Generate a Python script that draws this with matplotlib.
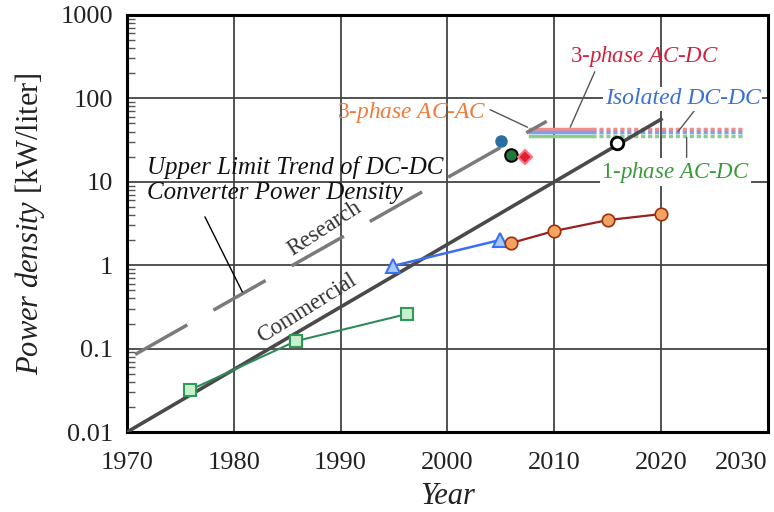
import numpy as np
import matplotlib
matplotlib.use('Agg')
import matplotlib.pyplot as plt
from matplotlib.ticker import LogLocator, NullFormatter

plt.rcParams['font.family'] = 'Liberation Serif'
plt.rcParams['mathtext.fontset'] = 'custom'
plt.rcParams['mathtext.rm'] = 'Liberation Serif'
plt.rcParams['mathtext.it'] = 'Liberation Serif:italic'

# trend lines (upper limit of DC-DC converter power density)
commercial_years = [1970, 2020]
commercial_vals = [0.01, 56]
research_years = [1970, 2009.3]
research_vals = [0.075, 53]

# commercial products
sq_years = [1975.9, 1985.8, 1996.2]
sq_vals = [0.032, 0.123, 0.26]
tri_years = [1994.9, 2004.9]
tri_vals = [0.98, 2.0]
circ_years = [2006.0, 2010.0, 2015.0, 2020.0]
circ_vals = [1.85, 2.57, 3.47, 4.1]

# research prototypes
blue_dot = (2005.0, 31)
green_dot = (2006.0, 21)
red_diamond = (2007.3, 20)
black_ring = (2015.9, 29)

# research targets: solid then dashed
band_years = [2007.7, 2013.5, 2027.6]
ac_dc3_val = 43
iso_dcdc_val = 39
ac_dc1_val = 35

xticks = [1970, 1980, 1990, 2000, 2010, 2020, 2030]
yticks = [0.01, 0.1, 1, 10, 100, 1000]
ylabels = ['0.01', '0.1', '1', '10', '100', '1000']

fig = plt.figure(figsize=(7.74, 5.12), dpi=100)
ax = fig.add_axes([0.164, 0.156, 0.828, 0.815])
ax.set_yscale('log')
ax.set_xlim(1970, 2030)
ax.set_ylim(0.01, 1000)

for x in xticks[1:-1]:
    ax.axvline(x, color='#444444', lw=1.3, zorder=1)
for y in yticks[1:-1]:
    ax.axhline(y, color='#444444', lw=1.3, zorder=1)

ax.plot(commercial_years, commercial_vals, color='#4a4a4a', lw=2.6, zorder=3)
ax.plot(research_years, research_vals, color='#7a7a7a', lw=2.5,
        linestyle=(23.2, (17.3, 8.6)), zorder=3)

ax.plot(sq_years, sq_vals, color='#2e8b57', lw=1.5, marker='s', ms=8,
        mfc='#c8f0cc', mec='#2e9a5a', mew=1.5, zorder=4)
ax.plot(tri_years, tri_vals, color='#3a6ff0', lw=1.8, marker='^', ms=10,
        mfc='#a8c8ff', mec='#3a6ff0', mew=1.5, zorder=4)
ax.plot(circ_years, circ_vals, color='#9a2020', lw=1.6, marker='o', ms=9,
        mfc='#f4a460', mec='#9a3010', mew=1.2, zorder=4)

ax.plot(*blue_dot, marker='o', ms=8, mfc='#2a6fa0', mec='#2a6fa0', zorder=5)
ax.plot(*green_dot, marker='o', ms=9, mfc='#1e7a3a', mec='black', mew=1.5, zorder=5)
ax.plot(*red_diamond, marker='D', ms=7, mfc='#e02030', mec='#ff7080', mew=1.5, zorder=5)
ax.plot(*black_ring, marker='o', ms=9, mfc='white', mec='black', mew=2, zorder=5)

for val, col in [(ac_dc3_val, '#f08c8c'), (iso_dcdc_val, '#7aa0f0'), (ac_dc1_val, '#8ccc8c')]:
    ax.plot(band_years[:2], [val, val], color=col, lw=2.5, zorder=2)
    ax.plot(band_years[1:], [val, val], color=col, lw=2.5, linestyle=(0, (1.2, 0.8)), zorder=2)

# labels with leader lines
lead = dict(arrowstyle='-', color='#555555', lw=1.0, shrinkA=0, shrinkB=0)
ax.annotate('', xy=(1980.8, 0.48), xytext=(1977.3, 3.8), arrowprops=dict(lead, color='black'))
ax.text(0.031, 0.604, 'Upper Limit Trend of DC-DC\nConverter Power Density',
        transform=ax.transAxes, ha='left', va='center', fontsize=18,
        style='italic', linespacing=1.2, color='#111111', zorder=6)
ax.text(0.309, 0.489, 'Research', transform=ax.transAxes, ha='center', va='center',
        fontsize=16.5, rotation=33, color='#333333', zorder=6)
ax.text(0.281, 0.297, 'Commercial', transform=ax.transAxes, ha='center', va='center',
        fontsize=16.5, rotation=32, color='#333333', zorder=6)

ax.annotate('', xy=(2011.5, 45), xytext=(2013.8, 208), arrowprops=lead)
ax.text(0.808, 0.899, r'3-$\it{phase}$ $\it{AC}$-$\it{DC}$', transform=ax.transAxes,
        ha='center', va='center', fontsize=16.5, color='#d0213e', zorder=6)
ax.annotate('', xy=(2021.6, 40), xytext=(2023.2, 73), arrowprops=lead)
ax.text(0.867, 0.799, 'Isolated DC-DC', transform=ax.transAxes, ha='center', va='center',
        fontsize=17, style='italic', color='#3a6fd8', zorder=6,
        bbox=dict(fc='white', ec='none', pad=1))
ax.annotate('', xy=(2022.4, 19.6), xytext=(2022.4, 34), arrowprops=lead)
ax.text(0.856, 0.623, r'1-$\it{phase}$ $\it{AC}$-$\it{DC}$', transform=ax.transAxes,
        ha='center', va='center', fontsize=16.5, color='#3a9a3a', zorder=6,
        bbox=dict(fc='white', ec='none', pad=1))
ax.annotate('', xy=(2007.5, 45), xytext=(2004.0, 73), arrowprops=lead)
ax.text(0.445, 0.767, r'3-$\it{phase}$ $\it{AC}$-$\it{AC}$', transform=ax.transAxes,
        ha='center', va='center', fontsize=16.8, color='#f07a3a', zorder=6)

ax.set_xticks(xticks)
ax.set_yticks(yticks, ylabels)
ax.yaxis.set_minor_locator(LogLocator(base=10, subs=np.arange(2, 10)))
ax.yaxis.set_minor_formatter(NullFormatter())
ax.tick_params(axis='both', which='major', direction='in', length=0, labelsize=19, colors='#222222')
ax.tick_params(axis='x', pad=14)
ax.tick_params(axis='y', pad=10)
ax.tick_params(axis='y', which='minor', direction='in', length=6, width=1, color='#555555')
ax.get_xticklabels()[-1].set_horizontalalignment('right')
for s in ax.spines.values():
    s.set_linewidth(2.2)
    s.set_color('black')

ax.set_ylabel(r'$\it{Power\ density}$ [kW/liter]', fontsize=22, color='#222222', labelpad=10)
ax.set_xlabel('Year', fontsize=22, style='italic', color='#222222', labelpad=6)

fig.savefig('out.png', dpi=100)
